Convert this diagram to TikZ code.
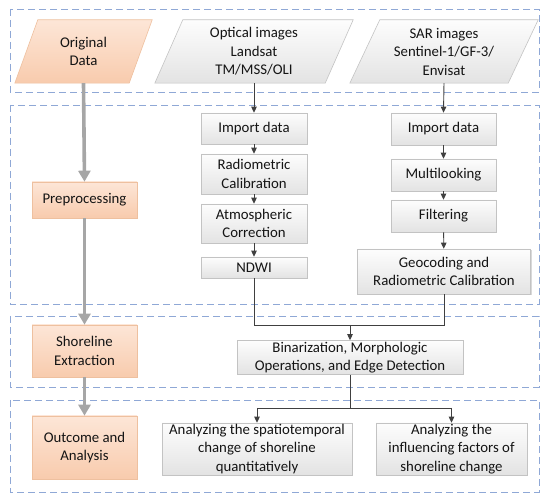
\documentclass[tikz,border=0pt]{standalone}
\usepackage{fontspec}
\setmainfont{Carlito}
\usetikzlibrary{arrows.meta,backgrounds,shadows}
\definecolor{bandc}{HTML}{8FA8D6}
\definecolor{thickc}{HTML}{A6A6A6}
\definecolor{thinc}{HTML}{404040}
\definecolor{peachT}{HTML}{FDE6D7}
\definecolor{peachB}{HTML}{F8CBAD}
\definecolor{peachD}{HTML}{EEC09F}
\definecolor{grayT}{HTML}{FDFDFD}
\definecolor{grayB}{HTML}{E3E3E3}
\definecolor{grayD}{HTML}{C3C3C3}
\definecolor{txt}{HTML}{141414}
\begin{document}
\begin{tikzpicture}[x=1pt,y=-1pt,
  font=\fontsize{14.8}{18.5}\selectfont, text=txt,
  band/.style={draw=bandc, line width=0.9pt, dash pattern=on 7pt off 4pt},
  gbox/.style={draw=grayD, line width=0.6pt, top color=grayT, bottom color=grayB,
    align=center, inner sep=1pt,
    drop shadow={shadow xshift=1pt, shadow yshift=-1pt, opacity=0.25, fill=black!60}},
  pbox/.style={draw=peachD, line width=0.6pt, top color=peachT, bottom color=peachB,
    align=center, inner sep=1pt, minimum width=105},
  ptext/.style={align=center, inner sep=0pt},
  thickarrow/.style={draw=thickc, line width=3.6pt, -{Triangle[width=12pt,length=11pt]}},
  thinarrow/.style={draw=thinc, line width=0.9pt, -{Triangle[width=5.5pt,length=6pt]}},
  plainline/.style={draw=thinc, line width=0.9pt},
  pshape/.style={draw=grayD, line width=0.6pt, top color=grayT, bottom color=grayB},
  ppeach/.style={draw=peachD, line width=0.6pt, top color=peachT, bottom color=peachB}
]
\useasboundingbox (0,0) rectangle (550,502);

% bands
\draw[band] (10,9) rectangle (539,92);
\draw[band] (10,105) rectangle (539,304);
\draw[band] (10,316) rectangle (539,387);
\draw[band] (10,400) rectangle (539,492);

% input parallelograms
\node[ptext, minimum width=114, minimum height=63] (orig) at (83.5,51.5) {Original\\Data};
\node[ptext, minimum width=170, minimum height=63] (opt) at (254,51.5) {Optical images\\Landsat\\TM/MSS/OLI};
\node[ptext, minimum width=158, minimum height=63] (sar) at (444,51.5) {SAR images\\Sentinel-1/GF-3/\\Envisat};
\begin{scope}[on background layer]
\path[ppeach] ([xshift=11.5pt]orig.north west) -- ([xshift=11.5pt]orig.north east)
  -- ([xshift=-11.5pt]orig.south east) -- ([xshift=-11.5pt]orig.south west) -- cycle;
\path[pshape] ([xshift=14pt]opt.north west) -- ([xshift=14pt]opt.north east)
  -- ([xshift=-14pt]opt.south east) -- ([xshift=-14pt]opt.south west) -- cycle;
\path[pshape] ([xshift=15pt]sar.north west) -- ([xshift=15pt]sar.north east)
  -- ([xshift=-15pt]sar.south east) -- ([xshift=-15pt]sar.south west) -- cycle;
\end{scope}

% stage boxes
\node[pbox, minimum height=36] (prep) at (84.5,200) {Preprocessing};
\node[pbox, minimum height=52] (shore) at (84.5,351) {Shoreline\\Extraction};
\node[pbox, minimum height=63] (outc) at (84.5,447.5) {Outcome and\\Analysis};

% optical chain
\node[gbox, minimum width=106, minimum height=31] (imp1) at (254,128.5) {Import data};
\node[gbox, minimum width=106, minimum height=40] (rad) at (254,174) {Radiometric\\Calibration};
\node[gbox, minimum width=106, minimum height=39] (atm) at (254,223.5) {Atmospheric\\Correction};
\node[gbox, minimum width=106, minimum height=21] (ndwi) at (254,267.5) {NDWI};

% SAR chain
\node[gbox, minimum width=105, minimum height=32] (imp2) at (443.5,129) {Import data};
\node[gbox, minimum width=105, minimum height=32] (mult) at (443.5,175) {Multilooking};
\node[gbox, minimum width=105, minimum height=32] (filt) at (443.5,216) {Filtering};
\node[gbox, minimum width=173, minimum height=45] (geo) at (444,271.5) {Geocoding and\\Radiometric Calibration};

% extraction and analysis
\node[gbox, minimum width=226, minimum height=34] (bin) at (350,357.5) {Binarization, Morphologic\\Operations, and Edge Detection};
\node[gbox, minimum width=190, minimum height=52] (res1) at (257,449) {Analyzing the spatiotemporal\\change of shoreline\\quantitatively};
\node[gbox, minimum width=151, minimum height=52] (res2) at (451.5,449) {Analyzing the\\influencing factors of\\shoreline change};

% thick gray arrows
\draw[thickarrow] (orig.south) -- (prep.north);
\draw[thickarrow] (prep.south) -- (shore.north);
\draw[thickarrow] (shore.south) -- (outc.north);

% thin arrows
\draw[thinarrow] (opt.south) -- (imp1.north);
\draw[thinarrow] (imp1) -- (rad);
\draw[thinarrow] (rad) -- (atm);
\draw[thinarrow] (atm) -- (ndwi);
\draw[thinarrow] (sar.south) -- (imp2.north);
\draw[thinarrow] (imp2) -- (mult);
\draw[thinarrow] (mult) -- (filt);
\draw[thinarrow] (filt) -- (geo);

\coordinate (jn) at (350,325);
\draw[plainline] (ndwi.south) -- (ndwi |- jn) -- (geo |- jn) -- (geo.south);
\draw[thinarrow] (jn) -- (bin.north);

\coordinate (sp) at (350,408);
\draw[plainline] (bin.south) -- (sp);
\draw[plainline] (res1 |- sp) -- (res2 |- sp);
\draw[thinarrow] (res1 |- sp) -- (res1.north);
\draw[thinarrow] (res2 |- sp) -- (res2.north);
\end{tikzpicture}
\end{document}
